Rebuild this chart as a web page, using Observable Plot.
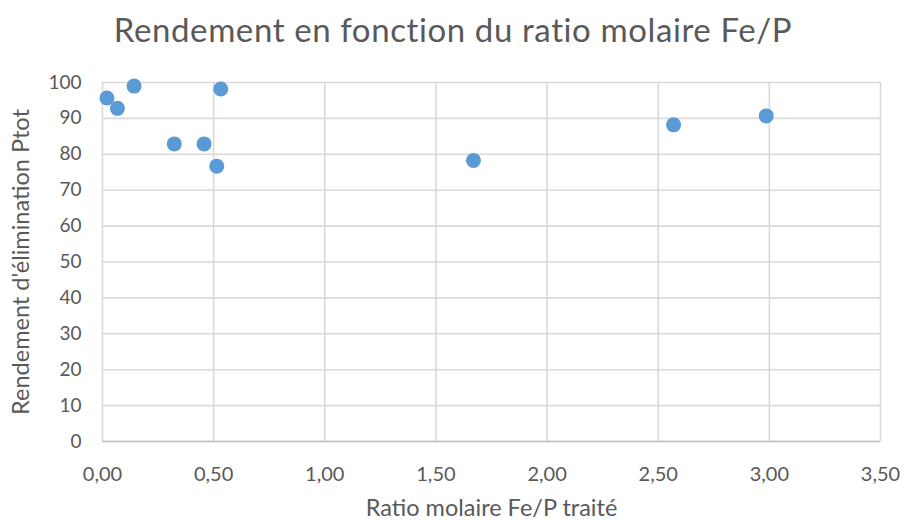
<!DOCTYPE html>
<html><head><meta charset="utf-8">
<script src="https://cdn.jsdelivr.net/npm/d3@7"></script>
<script src="https://cdn.jsdelivr.net/npm/@observablehq/plot@0.6"></script>
<style>
body{margin:0;background:#fff;font-family:Lato,"Open Sans",sans-serif;}
#title{height:62px;width:906px;text-align:center;font-size:33px;letter-spacing:0.6px;color:#595959;line-height:58px;}
</style></head><body>
<div id="title">Rendement en fonction du ratio molaire Fe/P</div>
<div id="chart"></div>
<script>
const ratio = [0.02, 0.067, 0.142, 0.323, 0.457, 0.514, 0.532, 1.669, 2.569, 2.986];
const rendement = [95.7, 92.8, 99.0, 82.9, 82.9, 76.7, 98.2, 78.3, 88.2, 90.7];
const xTicks = [0, 0.5, 1, 1.5, 2, 2.5, 3, 3.5];
const yTicks = [0, 10, 20, 30, 40, 50, 60, 70, 80, 90, 100];
const data = ratio.map((r, i) => ({ratio: r, rendement: rendement[i]}));
const fmt = d => d.toFixed(2).replace(".", ",");
const chart = Plot.plot({
  width: 906, height: 459,
  marginLeft: 102, marginRight: 26, marginTop: 20, marginBottom: 80,
  style: {fontFamily: "Lato, 'Open Sans', sans-serif", fontSize: "19px", color: "#595959", background: "#fff"},
  x: {domain: [0, 3.5]},
  y: {domain: [0, 100]},
  marks: [
    Plot.gridX(xTicks, {stroke: "#d9d9d9", strokeOpacity: 1, strokeWidth: 1.6}),
    Plot.gridY(yTicks, {stroke: "#d9d9d9", strokeOpacity: 1, strokeWidth: 1.6}),
    Plot.ruleY([0], {stroke: "#bfbfbf", strokeWidth: 1.6}),
    Plot.axisX({ticks: xTicks, tickFormat: fmt, tickSize: 0, tickPadding: 25, fontSize: 20,
      label: "Ratio molaire Fe/P traité", labelAnchor: "center", labelOffset: 74, labelArrow: "none"}),
    Plot.axisY({ticks: yTicks, tickSize: 0, tickPadding: 21, fontSize: 19,
      label: "Rendement d'élimination Ptot", labelAnchor: "center", labelOffset: 90, labelArrow: "none"}),
    Plot.dot(data, {x: "ratio", y: "rendement", r: 7.5, fill: "#5B9BD5", stroke: "none"})
  ]
});
chart.querySelectorAll("g[aria-label='x-axis label'] text, g[aria-label='y-axis label'] text").forEach(t => t.style.fontSize = "23.5px");
document.getElementById("chart").appendChild(chart);
</script>
</body></html>
